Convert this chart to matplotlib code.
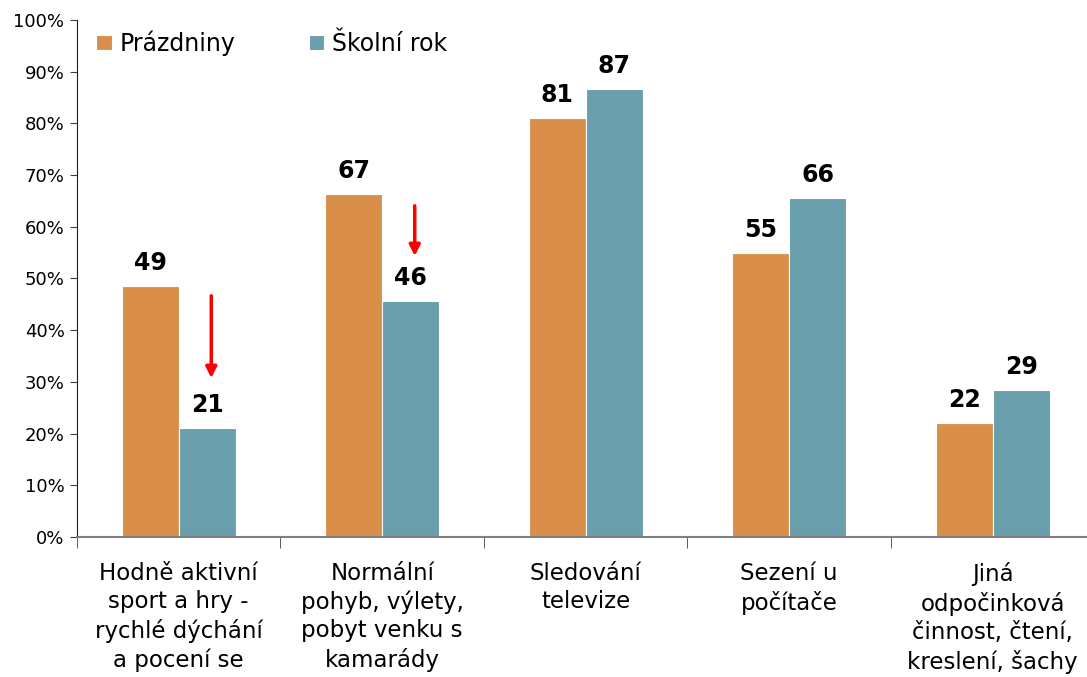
import matplotlib.pyplot as plt
import numpy as np
from matplotlib.ticker import PercentFormatter

categories = [
    "Hodně aktivní\nsport a hry -\nrychlé dýchání\na pocení se",
    "Normální\npohyb, výlety,\npobyt venku s\nkamarády",
    "Sledování\ntelevize",
    "Sezení u\npočítače",
    "Jiná\nodpočinková\nčinnost, čtení,\nkreslení, šachy",
]
series_names = ["Prázdniny", "Školní rok"]
prazdniny = [48.5, 66.4, 81.0, 55.0, 22.0]
skolni_rok = [21.0, 45.6, 86.6, 65.5, 28.5]
prazdniny_labels = ["49", "67", "81", "55", "22"]
skolni_rok_labels = ["21", "46", "87", "66", "29"]

# arrows showing the drop (category index, start %, end %)
drops = [(0, 47.2, 30.2), (1, 64.6, 53.8)]

colors = ["#D98F4A", "#699FAD"]

plt.rcParams["font.family"] = ["DejaVu Sans"]

fig = plt.figure(figsize=(10.87, 6.77), dpi=100)
ax = fig.add_axes([0.0708, 0.2068, 0.936, 0.7637])

x = np.arange(len(categories))
bar_width = 0.28

for i, (vals, labels) in enumerate([(prazdniny, prazdniny_labels), (skolni_rok, skolni_rok_labels)]):
    pos = x + (i - 0.5) * bar_width
    bars = ax.bar(pos, vals, width=bar_width, color=colors[i], edgecolor="white",
                  linewidth=0.8, label=series_names[i], zorder=2)
    for b, lab in zip(bars, labels):
        ax.annotate(lab, (b.get_x() + b.get_width() / 2, b.get_height()),
                    xytext=(0, 8), textcoords="offset points",
                    ha="center", va="bottom", fontsize=17, fontweight="bold")

for idx, y0, y1 in drops:
    ax.annotate("", xy=(idx + 0.16, y1), xytext=(idx + 0.16, y0),
                arrowprops=dict(arrowstyle="-|>", color="red", lw=2.5, mutation_scale=16))

ax.set_xlim(-0.5, len(categories) - 0.5)
ax.set_ylim(0, 100)
ax.yaxis.set_major_locator(plt.MultipleLocator(10))
ax.yaxis.set_major_formatter(PercentFormatter(decimals=0))
ax.tick_params(axis="y", labelsize=13, length=5, color="#404040", pad=4)

ax.set_xticks(x)
ax.set_xticklabels(categories, fontsize=16.5, linespacing=1.3)
ax.tick_params(axis="x", length=0, pad=18)
ax.set_xticks(np.arange(len(categories) + 1) - 0.5, minor=True)
ax.tick_params(axis="x", which="minor", length=8, color="#404040", direction="out")

for side in ["top", "right"]:
    ax.spines[side].set_visible(False)
ax.spines["left"].set_color("#202020")
ax.spines["bottom"].set_color("#808080")
ax.spines["bottom"].set_linewidth(1.5)

ax.legend(loc="upper left", bbox_to_anchor=(-0.002, 1.021), ncol=2, frameon=False,
          fontsize=17, handlelength=0.65, handleheight=0.65, handletextpad=0.35,
          columnspacing=3.1)

fig.savefig("out.png", dpi=100)
